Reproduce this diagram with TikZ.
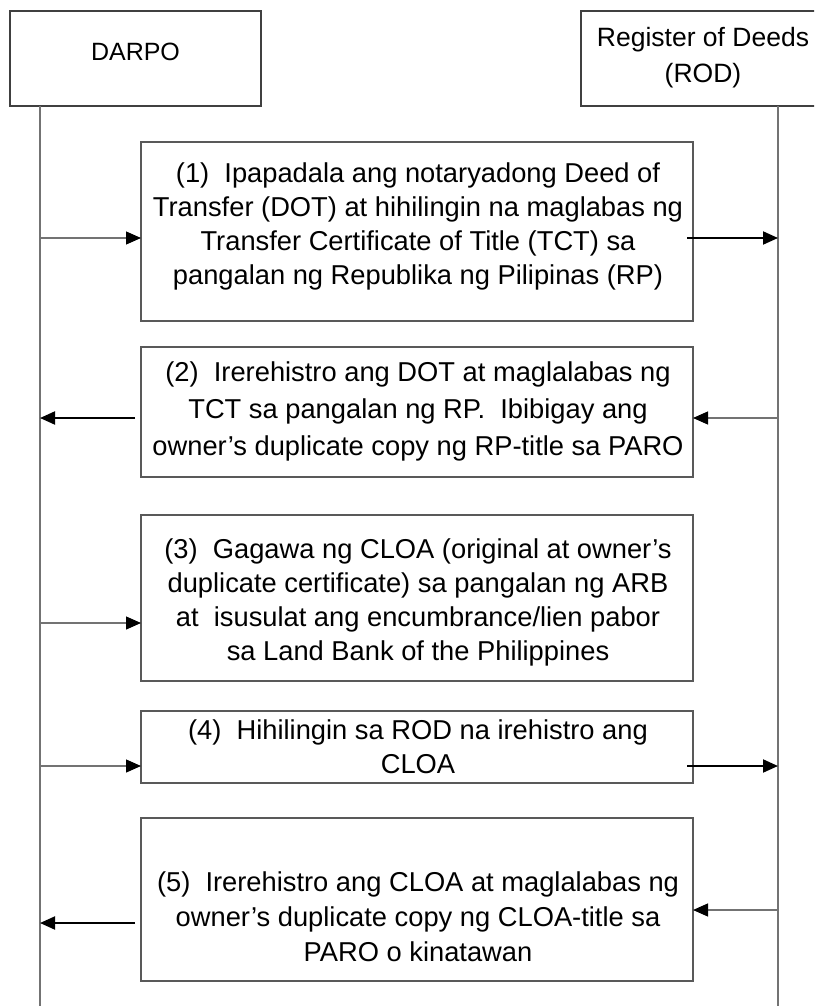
\documentclass[tikz,border=0pt]{standalone}
\usepackage{fontspec}
\setmainfont{Liberation Sans}
\usetikzlibrary{arrows.meta,calc}
\begin{document}
\begin{tikzpicture}[x=1pt,y=-1pt,
  every node/.style={inner sep=0pt,outer sep=0pt},
  header/.style={draw=black!75,line width=1.1pt,anchor=north west,
    minimum width=251pt,minimum height=95pt},
  stepbox/.style={draw=black!65,line width=1.1pt,anchor=north west,
    minimum width=552pt},
  steptext/.style={anchor=north,align=center},
  lifeline/.style={draw=black!55,line width=1.3pt},
  thin arrow/.style={draw=black!55,line width=1.2pt,
    -{Triangle[length=15pt,width=13pt,color=black]}},
  thick arrow/.style={draw=black,line width=2pt,
    -{Triangle[length=15pt,width=13pt,color=black]}}]
\useasboundingbox (0,0) rectangle (814,1006);
\begin{scope}
\clip (0,0) rectangle (814,1006);

% participants
\node[header] (darpo) at (10,11) {};
\node[font=\fontsize{25}{36}\selectfont,anchor=base] (darpoT) at (135.5,61) {DARPO};
\node[header] (rod) at (581,11) {};
\node[font=\fontsize{26.5}{36}\selectfont,anchor=north,align=center] (rodT)
  at (703,27.7) {Register of Deeds\\(ROD)};

% lifelines
\coordinate (dtop) at (40,106);
\coordinate (dbot) at (40,1006);
\coordinate (rtop) at (778,106);
\coordinate (rbot) at (778,1006);
\draw[lifeline] (dtop) -- (dbot);
\draw[lifeline] (rtop) -- (rbot);

% step boxes
\node[stepbox,minimum height=179pt] (s1) at (141,142) {};
\node[stepbox,minimum height=130pt] (s2) at (141,347) {};
\node[stepbox,minimum height=166pt] (s3) at (141,515) {};
\node[stepbox,minimum height=72pt]  (s4) at (141,711) {};
\node[stepbox,minimum height=163pt] (s5) at (141,818) {};

% step texts (top of each node = first baseline minus 0.728em)
\node[steptext,font=\fontsize{27.3}{34}\selectfont] (t1) at (418,163.1)
  {(1)\ \ Ipapadala ang notaryadong Deed of\\Transfer (DOT) at hihilingin na maglabas ng\\Transfer Certificate of Title (TCT) sa\\pangalan ng Republika ng Pilipinas (RP)};
\node[steptext,font=\fontsize{27.3}{37}\selectfont] (t2) at (418,362.1)
  {(2)\ \ Irerehistro ang DOT at maglalabas ng\\TCT sa pangalan ng RP.\ \ Ibibigay ang\\owner’s duplicate copy ng RP-title sa PARO};
\node[steptext,font=\fontsize{27.3}{34}\selectfont] (t3) at (418,539.1)
  {(3)\ \ Gagawa ng CLOA (original at owner’s\\duplicate certificate) sa pangalan ng ARB\\at\ \ isusulat ang encumbrance/lien pabor\\sa Land Bank of the Philippines};
\node[steptext,font=\fontsize{27.3}{34}\selectfont] (t4) at (418,720.1)
  {(4)\ \ Hihilingin sa ROD na irehistro ang\\CLOA};
\node[steptext,font=\fontsize{27.3}{35}\selectfont] (t5) at (418,872.1)
  {(5)\ \ Irerehistro ang CLOA at maglalabas ng\\owner’s duplicate copy ng CLOA-title sa\\PARO o kinatawan};

% message heights on the lifelines
\coordinate (d1) at (40,238);   \coordinate (r1) at (778,238);
\coordinate (d2) at (40,418);   \coordinate (r2) at (778,418);
\coordinate (d3) at (40,623);
\coordinate (d4) at (40,766);   \coordinate (r4) at (778,766);
\coordinate (d5) at (40,923);   \coordinate (r5) at (778,910);

% messages
\draw[thin arrow] (d1) -- (s1.west |- d1);
\draw[thick arrow] ([xshift=-6pt]s1.east |- r1) -- (r1);
\draw[thin arrow] (r2) -- (s2.east |- r2);
\draw[thick arrow] ([xshift=-6pt]s2.west |- d2) -- (d2);
\draw[thin arrow] (d3) -- (s3.west |- d3);
\draw[thin arrow] (d4) -- (s4.west |- d4);
\draw[thick arrow] ([xshift=-6pt]s4.east |- r4) -- (r4);
\draw[thin arrow] (r5) -- (s5.east |- r5);
\draw[thick arrow] ([xshift=-6pt]s5.west |- d5) -- (d5);
\end{scope}
\end{tikzpicture}
\end{document}
